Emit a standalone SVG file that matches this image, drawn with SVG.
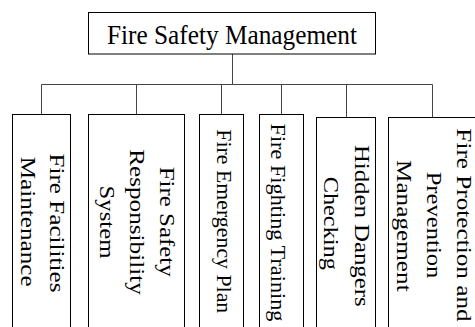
<svg xmlns="http://www.w3.org/2000/svg" width="475" height="327" viewBox="0 0 475 327">
<style>
.box{fill:#fff;stroke:#000;stroke-width:1}
.con{fill:none;stroke:#444;stroke-width:1}
text{font-family:"Liberation Serif","Times New Roman",serif;fill:#000;text-anchor:middle}
.v{font-size:20px}
</style>
<rect width="475" height="327" fill="#fff"/>
<g id="connectors">
<path class="con" d="M232.5 54V84.5M41.5 84.5H432.5M41.5 84.5V114.5M136.5 84.5V114.5M221.5 84.5V114.5M281.5 84.5V114.5M346.5 84.5V117.5M432.5 84.5V117.5"/>
</g>
<g id="root">
<rect class="box" x="88.5" y="12.5" width="287" height="41.5"/>
<text x="232" y="44" font-size="28" textLength="250" lengthAdjust="spacingAndGlyphs">Fire Safety Management</text>
</g>
<g id="n1">
<rect class="box" x="12.5" y="114.5" width="58" height="230"/>
<text class="v" transform="translate(50,223) rotate(90)" textLength="139" lengthAdjust="spacingAndGlyphs">Fire Facilities</text>
<text class="v" transform="translate(20.7,221.7) rotate(90)" textLength="130" lengthAdjust="spacingAndGlyphs">Maintenance</text>
</g>
<g id="n2">
<rect class="box" x="88.5" y="114.5" width="96" height="230"/>
<text class="v" transform="translate(160,221.7) rotate(90)" textLength="110" lengthAdjust="spacingAndGlyphs">Fire Safety</text>
<text class="v" transform="translate(130,222) rotate(90)" textLength="145.7" lengthAdjust="spacingAndGlyphs">Responsibility</text>
<text class="v" transform="translate(100,222) rotate(90)" textLength="73" lengthAdjust="spacingAndGlyphs">System</text>
</g>
<g id="n3">
<rect class="box" x="199.5" y="114.5" width="44" height="230"/>
<text class="v" transform="translate(217,221.3) rotate(90)" textLength="184" lengthAdjust="spacingAndGlyphs">Fire Emergency Plan</text>
</g>
<g id="n4">
<rect class="box" x="259.5" y="114.5" width="44" height="230"/>
<text class="v" transform="translate(271,222.5) rotate(90)" textLength="198" lengthAdjust="spacingAndGlyphs">Fire Fighting Training</text>
</g>
<g id="n5">
<rect class="box" x="316.5" y="117.5" width="59" height="230"/>
<text class="v" transform="translate(355,225.8) rotate(90)" textLength="161.7" lengthAdjust="spacingAndGlyphs">Hidden Dangers</text>
<text class="v" transform="translate(324.3,223.3) rotate(90)" textLength="93.3" lengthAdjust="spacingAndGlyphs">Checking</text>
</g>
<g id="n6">
<rect class="box" x="388.5" y="117.5" width="100" height="230"/>
<text class="v" transform="translate(456.7,225) rotate(90)" textLength="193.3" lengthAdjust="spacingAndGlyphs">Fire Protection and</text>
<text class="v" transform="translate(426.7,225) rotate(90)" textLength="106.7" lengthAdjust="spacingAndGlyphs">Prevention</text>
<text class="v" transform="translate(396.7,225.8) rotate(90)" textLength="131.7" lengthAdjust="spacingAndGlyphs">Management</text>
</g>
</svg>
